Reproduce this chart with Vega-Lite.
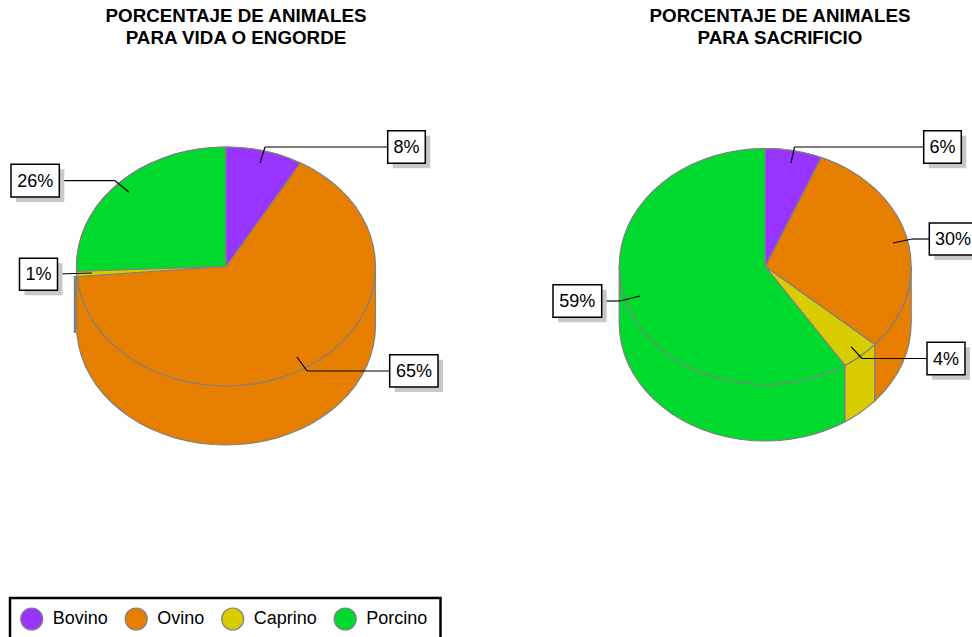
{
"$schema":"https://vega.github.io/schema/vega-lite/v6.json",
"width":972,"height":637,"padding":0,
"autosize":{"type":"fit","contains":"padding"},
"background":"white",
"view":{"stroke":null},
"datasets":{
"superficie":[
{"parte":"I muro","especie":"Ovino","x":76.5,"y":266.5,"y2":325.5},{"parte":"I muro","especie":"Ovino","x":77.1,"y":266.5,"y2":335.9},{"parte":"I muro","especie":"Ovino","x":78.8,"y":266.5,"y2":346.2},{"parte":"I muro","especie":"Ovino","x":81.6,"y":266.5,"y2":356.4},{"parte":"I muro","especie":"Ovino","x":85.5,"y":266.5,"y2":366.4},{"parte":"I muro","especie":"Ovino","x":90.5,"y":266.5,"y2":376},{"parte":"I muro","especie":"Ovino","x":96.5,"y":266.5,"y2":385.3},{"parte":"I muro","especie":"Ovino","x":103.5,"y":266.5,"y2":394},{"parte":"I muro","especie":"Ovino","x":111.5,"y":266.5,"y2":402.3},{"parte":"I muro","especie":"Ovino","x":120.3,"y":266.5,"y2":410},{"parte":"I muro","especie":"Ovino","x":129.9,"y":266.5,"y2":417},{"parte":"I muro","especie":"Ovino","x":140.2,"y":266.5,"y2":423.4},{"parte":"I muro","especie":"Ovino","x":151.2,"y":266.5,"y2":429},{"parte":"I muro","especie":"Ovino","x":162.8,"y":266.5,"y2":433.8},{"parte":"I muro","especie":"Ovino","x":174.9,"y":266.5,"y2":437.8},{"parte":"I muro","especie":"Ovino","x":187.3,"y":266.5,"y2":440.9},{"parte":"I muro","especie":"Ovino","x":200,"y":266.5,"y2":443.2},{"parte":"I muro","especie":"Ovino","x":213,"y":266.5,"y2":444.5},{"parte":"I muro","especie":"Ovino","x":226,"y":266.5,"y2":445},{"parte":"I muro","especie":"Ovino","x":239,"y":266.5,"y2":444.5},{"parte":"I muro","especie":"Ovino","x":252,"y":266.5,"y2":443.2},{"parte":"I muro","especie":"Ovino","x":264.7,"y":266.5,"y2":440.9},{"parte":"I muro","especie":"Ovino","x":277.1,"y":266.5,"y2":437.8},{"parte":"I muro","especie":"Ovino","x":289.2,"y":266.5,"y2":433.8},{"parte":"I muro","especie":"Ovino","x":300.8,"y":266.5,"y2":429},{"parte":"I muro","especie":"Ovino","x":311.8,"y":266.5,"y2":423.4},{"parte":"I muro","especie":"Ovino","x":322.1,"y":266.5,"y2":417},{"parte":"I muro","especie":"Ovino","x":331.7,"y":266.5,"y2":410},{"parte":"I muro","especie":"Ovino","x":340.5,"y":266.5,"y2":402.3},{"parte":"I muro","especie":"Ovino","x":348.5,"y":266.5,"y2":394},{"parte":"I muro","especie":"Ovino","x":355.5,"y":266.5,"y2":385.3},{"parte":"I muro","especie":"Ovino","x":361.5,"y":266.5,"y2":376},{"parte":"I muro","especie":"Ovino","x":366.5,"y":266.5,"y2":366.4},{"parte":"I muro","especie":"Ovino","x":370.4,"y":266.5,"y2":356.4},{"parte":"I muro","especie":"Ovino","x":373.2,"y":266.5,"y2":346.2},{"parte":"I muro","especie":"Ovino","x":374.9,"y":266.5,"y2":335.9},{"parte":"I muro","especie":"Ovino","x":375.5,"y":266.5,"y2":325.5},
{"parte":"I tapa","especie":"Ovino","x":76.5,"y":266.5,"y2":266.5},{"parte":"I tapa","especie":"Ovino","x":77.1,"y":256.1,"y2":276.9},{"parte":"I tapa","especie":"Ovino","x":78.8,"y":245.8,"y2":287.2},{"parte":"I tapa","especie":"Ovino","x":81.6,"y":235.6,"y2":297.4},{"parte":"I tapa","especie":"Ovino","x":85.5,"y":225.6,"y2":307.4},{"parte":"I tapa","especie":"Ovino","x":90.5,"y":216,"y2":317},{"parte":"I tapa","especie":"Ovino","x":96.5,"y":206.7,"y2":326.3},{"parte":"I tapa","especie":"Ovino","x":103.5,"y":198,"y2":335},{"parte":"I tapa","especie":"Ovino","x":111.5,"y":189.7,"y2":343.3},{"parte":"I tapa","especie":"Ovino","x":120.3,"y":182,"y2":351},{"parte":"I tapa","especie":"Ovino","x":129.9,"y":175,"y2":358},{"parte":"I tapa","especie":"Ovino","x":140.2,"y":168.6,"y2":364.4},{"parte":"I tapa","especie":"Ovino","x":151.2,"y":163,"y2":370},{"parte":"I tapa","especie":"Ovino","x":162.8,"y":158.2,"y2":374.8},{"parte":"I tapa","especie":"Ovino","x":174.9,"y":154.2,"y2":378.8},{"parte":"I tapa","especie":"Ovino","x":187.3,"y":151.1,"y2":381.9},{"parte":"I tapa","especie":"Ovino","x":200,"y":148.8,"y2":384.2},{"parte":"I tapa","especie":"Ovino","x":213,"y":147.5,"y2":385.5},{"parte":"I tapa","especie":"Ovino","x":226,"y":147,"y2":386},{"parte":"I tapa","especie":"Ovino","x":239,"y":147.5,"y2":385.5},{"parte":"I tapa","especie":"Ovino","x":252,"y":148.8,"y2":384.2},{"parte":"I tapa","especie":"Ovino","x":264.7,"y":151.1,"y2":381.9},{"parte":"I tapa","especie":"Ovino","x":277.1,"y":154.2,"y2":378.8},{"parte":"I tapa","especie":"Ovino","x":289.2,"y":158.2,"y2":374.8},{"parte":"I tapa","especie":"Ovino","x":300.8,"y":163,"y2":370},{"parte":"I tapa","especie":"Ovino","x":311.8,"y":168.6,"y2":364.4},{"parte":"I tapa","especie":"Ovino","x":322.1,"y":175,"y2":358},{"parte":"I tapa","especie":"Ovino","x":331.7,"y":182,"y2":351},{"parte":"I tapa","especie":"Ovino","x":340.5,"y":189.7,"y2":343.3},{"parte":"I tapa","especie":"Ovino","x":348.5,"y":198,"y2":335},{"parte":"I tapa","especie":"Ovino","x":355.5,"y":206.7,"y2":326.3},{"parte":"I tapa","especie":"Ovino","x":361.5,"y":216,"y2":317},{"parte":"I tapa","especie":"Ovino","x":366.5,"y":225.6,"y2":307.4},{"parte":"I tapa","especie":"Ovino","x":370.4,"y":235.6,"y2":297.4},{"parte":"I tapa","especie":"Ovino","x":373.2,"y":245.8,"y2":287.2},{"parte":"I tapa","especie":"Ovino","x":374.9,"y":256.1,"y2":276.9},{"parte":"I tapa","especie":"Ovino","x":375.5,"y":266.5,"y2":266.5},
{"parte":"I porcino","especie":"Porcino","x":76.6,"y":261.5,"y2":271.5},{"parte":"I porcino","especie":"Porcino","x":77.1,"y":256.1,"y2":271.5},{"parte":"I porcino","especie":"Porcino","x":78.8,"y":245.8,"y2":271.4},{"parte":"I porcino","especie":"Porcino","x":81.6,"y":235.6,"y2":271.3},{"parte":"I porcino","especie":"Porcino","x":85.5,"y":225.6,"y2":271.2},{"parte":"I porcino","especie":"Porcino","x":90.5,"y":216,"y2":271},{"parte":"I porcino","especie":"Porcino","x":96.5,"y":206.7,"y2":270.8},{"parte":"I porcino","especie":"Porcino","x":103.5,"y":198,"y2":270.6},{"parte":"I porcino","especie":"Porcino","x":111.5,"y":189.7,"y2":270.3},{"parte":"I porcino","especie":"Porcino","x":120.3,"y":182,"y2":270},{"parte":"I porcino","especie":"Porcino","x":129.9,"y":175,"y2":269.7},{"parte":"I porcino","especie":"Porcino","x":140.2,"y":168.6,"y2":269.4},{"parte":"I porcino","especie":"Porcino","x":151.2,"y":163,"y2":269},{"parte":"I porcino","especie":"Porcino","x":162.8,"y":158.2,"y2":268.6},{"parte":"I porcino","especie":"Porcino","x":174.9,"y":154.2,"y2":268.2},{"parte":"I porcino","especie":"Porcino","x":187.3,"y":151.1,"y2":267.8},{"parte":"I porcino","especie":"Porcino","x":200,"y":148.8,"y2":267.4},{"parte":"I porcino","especie":"Porcino","x":213,"y":147.5,"y2":266.9},{"parte":"I porcino","especie":"Porcino","x":226,"y":147,"y2":266.5},
{"parte":"I bovino","especie":"Bovino","x":226,"y":147,"y2":266.5},{"parte":"I bovino","especie":"Bovino","x":239,"y":147.5,"y2":248.4},{"parte":"I bovino","especie":"Bovino","x":252,"y":148.8,"y2":230.2},{"parte":"I bovino","especie":"Bovino","x":264.7,"y":151.1,"y2":212.5},{"parte":"I bovino","especie":"Bovino","x":277.1,"y":154.2,"y2":195.2},{"parte":"I bovino","especie":"Bovino","x":289.2,"y":158.2,"y2":178.3},{"parte":"I bovino","especie":"Bovino","x":300,"y":163.3,"y2":163.3},
{"parte":"I caprino","especie":"Caprino","x":76.6,"y":271.5,"y2":276.7},{"parte":"I caprino","especie":"Caprino","x":226,"y":266.5,"y2":266.5},
{"parte":"D muro","especie":"Porcino","x":619.2,"y":266.5,"y2":323},{"parte":"D muro","especie":"Porcino","x":619.8,"y":266.5,"y2":333.3},{"parte":"D muro","especie":"Porcino","x":621.4,"y":266.5,"y2":343.5},{"parte":"D muro","especie":"Porcino","x":624.2,"y":266.5,"y2":353.5},{"parte":"D muro","especie":"Porcino","x":628,"y":266.5,"y2":363.4},{"parte":"D muro","especie":"Porcino","x":632.9,"y":266.5,"y2":372.9},{"parte":"D muro","especie":"Porcino","x":638.8,"y":266.5,"y2":382},{"parte":"D muro","especie":"Porcino","x":645.6,"y":266.5,"y2":390.7},{"parte":"D muro","especie":"Porcino","x":653.4,"y":266.5,"y2":398.8},{"parte":"D muro","especie":"Porcino","x":662,"y":266.5,"y2":406.4},{"parte":"D muro","especie":"Porcino","x":671.4,"y":266.5,"y2":413.4},{"parte":"D muro","especie":"Porcino","x":681.5,"y":266.5,"y2":419.7},{"parte":"D muro","especie":"Porcino","x":692.2,"y":266.5,"y2":425.2},{"parte":"D muro","especie":"Porcino","x":703.5,"y":266.5,"y2":429.9},{"parte":"D muro","especie":"Porcino","x":715.3,"y":266.5,"y2":433.9},{"parte":"D muro","especie":"Porcino","x":727.4,"y":266.5,"y2":437},{"parte":"D muro","especie":"Porcino","x":739.8,"y":266.5,"y2":439.2},{"parte":"D muro","especie":"Porcino","x":752.5,"y":266.5,"y2":440.6},{"parte":"D muro","especie":"Porcino","x":765.2,"y":266.5,"y2":441},{"parte":"D muro","especie":"Porcino","x":777.9,"y":266.5,"y2":440.6},{"parte":"D muro","especie":"Porcino","x":790.6,"y":266.5,"y2":439.2},{"parte":"D muro","especie":"Porcino","x":803,"y":266.5,"y2":437},{"parte":"D muro","especie":"Porcino","x":815.1,"y":266.5,"y2":433.9},{"parte":"D muro","especie":"Porcino","x":826.9,"y":266.5,"y2":429.9},{"parte":"D muro","especie":"Porcino","x":838.2,"y":266.5,"y2":425.2},{"parte":"D muro","especie":"Porcino","x":845,"y":266.5,"y2":421.8},
{"parte":"D muro caprino","especie":"Caprino","x":845,"y":365.3,"y2":421.8},{"parte":"D muro caprino","especie":"Caprino","x":848.9,"y":363.2,"y2":419.7},{"parte":"D muro caprino","especie":"Caprino","x":859,"y":356.9,"y2":413.4},{"parte":"D muro caprino","especie":"Caprino","x":868.4,"y":349.9,"y2":406.4},{"parte":"D muro caprino","especie":"Caprino","x":874.7,"y":344.5,"y2":401},
{"parte":"D muro ovino","especie":"Ovino","x":874.7,"y":344.5,"y2":401},{"parte":"D muro ovino","especie":"Ovino","x":877,"y":342.3,"y2":398.8},{"parte":"D muro ovino","especie":"Ovino","x":884.8,"y":334.2,"y2":390.7},{"parte":"D muro ovino","especie":"Ovino","x":891.6,"y":325.5,"y2":382},{"parte":"D muro ovino","especie":"Ovino","x":897.5,"y":316.4,"y2":372.9},{"parte":"D muro ovino","especie":"Ovino","x":902.4,"y":306.9,"y2":363.4},{"parte":"D muro ovino","especie":"Ovino","x":906.2,"y":297,"y2":353.5},{"parte":"D muro ovino","especie":"Ovino","x":909,"y":287,"y2":343.5},{"parte":"D muro ovino","especie":"Ovino","x":910.6,"y":276.8,"y2":333.3},{"parte":"D muro ovino","especie":"Ovino","x":911.2,"y":266.5,"y2":323},
{"parte":"D tapa","especie":"Porcino","x":619.2,"y":266.5,"y2":266.5},{"parte":"D tapa","especie":"Porcino","x":619.8,"y":256.2,"y2":276.8},{"parte":"D tapa","especie":"Porcino","x":621.4,"y":246,"y2":287},{"parte":"D tapa","especie":"Porcino","x":624.2,"y":236,"y2":297},{"parte":"D tapa","especie":"Porcino","x":628,"y":226.1,"y2":306.9},{"parte":"D tapa","especie":"Porcino","x":632.9,"y":216.6,"y2":316.4},{"parte":"D tapa","especie":"Porcino","x":638.8,"y":207.5,"y2":325.5},{"parte":"D tapa","especie":"Porcino","x":645.6,"y":198.8,"y2":334.2},{"parte":"D tapa","especie":"Porcino","x":653.4,"y":190.7,"y2":342.3},{"parte":"D tapa","especie":"Porcino","x":662,"y":183.1,"y2":349.9},{"parte":"D tapa","especie":"Porcino","x":671.4,"y":176.1,"y2":356.9},{"parte":"D tapa","especie":"Porcino","x":681.5,"y":169.8,"y2":363.2},{"parte":"D tapa","especie":"Porcino","x":692.2,"y":164.3,"y2":368.7},{"parte":"D tapa","especie":"Porcino","x":703.5,"y":159.6,"y2":373.4},{"parte":"D tapa","especie":"Porcino","x":715.3,"y":155.6,"y2":377.4},{"parte":"D tapa","especie":"Porcino","x":727.4,"y":152.5,"y2":380.5},{"parte":"D tapa","especie":"Porcino","x":739.8,"y":150.3,"y2":382.7},{"parte":"D tapa","especie":"Porcino","x":752.5,"y":148.9,"y2":384.1},{"parte":"D tapa","especie":"Porcino","x":765.2,"y":148.5,"y2":384.5},{"parte":"D tapa","especie":"Porcino","x":777.9,"y":148.9,"y2":384.1},{"parte":"D tapa","especie":"Porcino","x":790.6,"y":150.3,"y2":382.7},{"parte":"D tapa","especie":"Porcino","x":803,"y":152.5,"y2":380.5},{"parte":"D tapa","especie":"Porcino","x":815.1,"y":155.6,"y2":377.4},{"parte":"D tapa","especie":"Porcino","x":826.9,"y":159.6,"y2":373.4},{"parte":"D tapa","especie":"Porcino","x":838.2,"y":164.3,"y2":368.7},{"parte":"D tapa","especie":"Porcino","x":845,"y":167.7,"y2":365.3},
{"parte":"D ovino","especie":"Ovino","x":765.2,"y":266.5,"y2":266.5},{"parte":"D ovino","especie":"Ovino","x":777.9,"y":241.7,"y2":275.5},{"parte":"D ovino","especie":"Ovino","x":790.6,"y":216.9,"y2":284.6},{"parte":"D ovino","especie":"Ovino","x":803,"y":192.7,"y2":293.4},{"parte":"D ovino","especie":"Ovino","x":815.1,"y":169,"y2":302},{"parte":"D ovino","especie":"Ovino","x":821,"y":157.5,"y2":306.2},{"parte":"D ovino","especie":"Ovino","x":826.9,"y":159.6,"y2":310.4},{"parte":"D ovino","especie":"Ovino","x":838.2,"y":164.3,"y2":318.5},{"parte":"D ovino","especie":"Ovino","x":848.9,"y":169.8,"y2":326.1},{"parte":"D ovino","especie":"Ovino","x":859,"y":176.1,"y2":333.3},{"parte":"D ovino","especie":"Ovino","x":868.4,"y":183.1,"y2":340},{"parte":"D ovino","especie":"Ovino","x":874.7,"y":188.5,"y2":344.5},{"parte":"D ovino","especie":"Ovino","x":877,"y":190.7,"y2":342.3},{"parte":"D ovino","especie":"Ovino","x":884.8,"y":198.8,"y2":334.2},{"parte":"D ovino","especie":"Ovino","x":891.6,"y":207.5,"y2":325.5},{"parte":"D ovino","especie":"Ovino","x":897.5,"y":216.6,"y2":316.4},{"parte":"D ovino","especie":"Ovino","x":902.4,"y":226.1,"y2":306.9},{"parte":"D ovino","especie":"Ovino","x":906.2,"y":236,"y2":297},{"parte":"D ovino","especie":"Ovino","x":909,"y":246,"y2":287},{"parte":"D ovino","especie":"Ovino","x":910.6,"y":256.2,"y2":276.8},{"parte":"D ovino","especie":"Ovino","x":911.2,"y":266.5,"y2":266.5},
{"parte":"D bovino","especie":"Bovino","x":765.2,"y":148.5,"y2":266.5},{"parte":"D bovino","especie":"Bovino","x":777.9,"y":148.9,"y2":241.7},{"parte":"D bovino","especie":"Bovino","x":790.6,"y":150.3,"y2":216.9},{"parte":"D bovino","especie":"Bovino","x":803,"y":152.5,"y2":192.7},{"parte":"D bovino","especie":"Bovino","x":815.1,"y":155.6,"y2":169},{"parte":"D bovino","especie":"Bovino","x":821,"y":157.5,"y2":157.5},
{"parte":"D caprino","especie":"Caprino","x":765.2,"y":266.5,"y2":266.5},{"parte":"D caprino","especie":"Caprino","x":845,"y":323.3,"y2":365.3},{"parte":"D caprino","especie":"Caprino","x":848.9,"y":326.1,"y2":363.2},{"parte":"D caprino","especie":"Caprino","x":859,"y":333.3,"y2":356.9},{"parte":"D caprino","especie":"Caprino","x":868.4,"y":340,"y2":349.9},{"parte":"D caprino","especie":"Caprino","x":874.7,"y":344.5,"y2":344.5}
],
"etiquetas":[
{"especie":"Bovino","texto":"8%","x":387.7,"x2":425.3,"y":130.7,"y2":163.3,"xt":406.5,"yt":147},
{"especie":"Ovino","texto":"65%","x":389.7,"x2":438,"y":354.7,"y2":387,"xt":414,"yt":371},
{"especie":"Caprino","texto":"1%","x":19.5,"x2":57.5,"y":258.3,"y2":290.3,"xt":38.5,"yt":274.3},
{"especie":"Porcino","texto":"26%","x":11,"x2":59.3,"y":164.3,"y2":197,"xt":35.2,"yt":180.7},
{"especie":"Bovino","texto":"6%","x":923.7,"x2":961.3,"y":130.7,"y2":163.3,"xt":942.5,"yt":147},
{"especie":"Ovino","texto":"30%","x":929.3,"x2":977.5,"y":223,"y2":255,"xt":953,"yt":239},
{"especie":"Caprino","texto":"4%","x":927,"x2":965,"y":342.3,"y2":374.7,"xt":946,"yt":358.5},
{"especie":"Porcino","texto":"59%","x":553,"x2":601.7,"y":284.7,"y2":317.3,"xt":577.3,"yt":301}
],
"guias":[
{"x":388,"y":147,"x2":265,"y2":147},{"x":265,"y":147,"x2":260,"y2":163},
{"x":389.7,"y":371,"x2":307,"y2":371},{"x":307,"y":371,"x2":297,"y2":357},
{"x":57.5,"y":274,"x2":92,"y2":273},
{"x":59,"y":180.7,"x2":115,"y2":180.7},{"x":115,"y":180.7,"x2":129,"y2":192.3},
{"x":923.7,"y":147,"x2":794.5,"y2":147},{"x":794.5,"y":147,"x2":791,"y2":163},
{"x":929.3,"y":239,"x2":912,"y2":239},{"x":912,"y":239,"x2":893,"y2":243},
{"x":927,"y":358.5,"x2":862,"y2":358.5},{"x":862,"y":358.5,"x2":851,"y2":346.7},
{"x":601.7,"y":301,"x2":620,"y2":301},{"x":620,"y":301,"x2":640,"y2":296}
],
"titulos":[
{"texto":"PORCENTAJE DE ANIMALES","x":236,"y":22.3},
{"texto":"PARA VIDA O ENGORDE","x":236,"y":43.7},
{"texto":"PORCENTAJE DE ANIMALES","x":780,"y":22.3},
{"texto":"PARA SACRIFICIO","x":780,"y":43.7}
],
"marco":[{"x":10,"x2":440.5,"y":598,"y2":645}],
"franja":[{"x":75,"y":276,"y2":333}]
},
"encoding":{
"x":{"field":"x","type":"quantitative","scale":{"domain":[0,972],"nice":false,"zero":false},"axis":null},
"y":{"field":"y","type":"quantitative","scale":{"domain":[637,0],"nice":false,"zero":false},"axis":null}
},
"layer":[
{"data":{"name":"marco"},"mark":{"type":"rect","fill":"white","stroke":"black","strokeWidth":2.5,"clip":true},
 "encoding":{"x2":{"field":"x2"},"y2":{"field":"y2"}}},
{"data":{"name":"franja"},"mark":{"type":"rule","stroke":"#808080","strokeWidth":2.5},
 "encoding":{"y2":{"field":"y2"}}},
{"data":{"name":"superficie"},"mark":{"type":"area","stroke":"#808080","strokeWidth":1.2,"interpolate":"linear"},
 "encoding":{"y2":{"field":"y2"},"detail":{"field":"parte"},
  "color":{"field":"especie","type":"nominal",
   "scale":{"domain":["Bovino","Ovino","Caprino","Porcino"],"range":["#9933FF","#E67E00","#D9CC00","#00D92E"]},
   "legend":{"title":null,"orient":"none","legendX":19.7,"legendY":606.7,"direction":"horizontal","columns":4,
    "symbolType":"circle","symbolSize":484,"symbolStrokeColor":"#808080","symbolStrokeWidth":1.2,"symbolOpacity":1,
    "labelFont":"Liberation Sans","labelFontSize":18,"labelColor":"black","labelOffset":9,"columnPadding":13.5,"padding":0}}}},
{"data":{"name":"guias"},"mark":{"type":"rule","stroke":"black","strokeWidth":1.2},
 "encoding":{"x2":{"field":"x2"},"y2":{"field":"y2"}}},
{"data":{"name":"etiquetas"},"mark":{"type":"rect","fill":"#C8C8C8","xOffset":5,"x2Offset":5,"yOffset":5,"y2Offset":5,"clip":true},
 "encoding":{"x2":{"field":"x2"},"y2":{"field":"y2"}}},
{"data":{"name":"etiquetas"},"mark":{"type":"rect","fill":"white","stroke":"black","strokeWidth":1.5,"clip":true},
 "encoding":{"x2":{"field":"x2"},"y2":{"field":"y2"}}},
{"data":{"name":"etiquetas"},"mark":{"type":"text","font":"Liberation Sans","fontSize":18,"fill":"black","align":"center","baseline":"middle","dy":1},
 "encoding":{"x":{"field":"xt","type":"quantitative"},"y":{"field":"yt","type":"quantitative"},"text":{"field":"texto"}}},
{"data":{"name":"titulos"},"mark":{"type":"text","font":"Liberation Sans","fontSize":18.8,"fontWeight":"bold","fill":"black","align":"center","baseline":"alphabetic"},
 "encoding":{"text":{"field":"texto"}}}
]
}
